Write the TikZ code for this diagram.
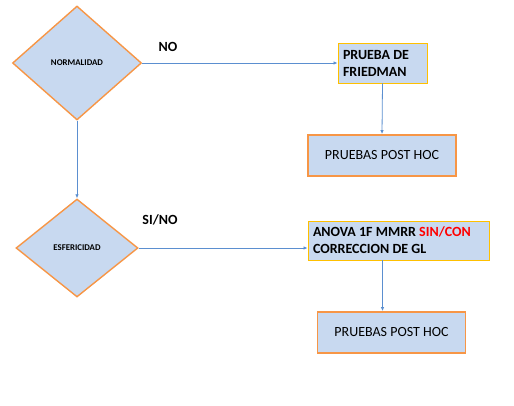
\documentclass[tikz,border=0pt]{standalone}
\usepackage{fontspec}
\setmainfont{Carlito}
\usetikzlibrary{shapes.geometric, arrows.meta}
\definecolor{boxblue}{HTML}{C8D9F0}
\definecolor{lineblue}{HTML}{5B8FD0}
\definecolor{borderorange}{HTML}{F79646}
\definecolor{borderyellow}{HTML}{FFC000}

\begin{document}
\begin{tikzpicture}[x=1pt, y=-1pt,
  decision/.style={diamond, draw=borderorange, line width=1.4pt, fill=boxblue, inner sep=0pt, font=\fontsize{8.8}{10}\selectfont\bfseries},
  testbox/.style={rectangle, draw=borderyellow, line width=0.9pt, fill=boxblue, inner sep=0pt, align=flush left, font=\fontsize{14}{17}\selectfont\bfseries},
  posthoc/.style={rectangle, draw=borderorange, line width=1.8pt, fill=boxblue, inner sep=0pt, minimum width=148pt, minimum height=41pt, font=\fontsize{14}{17}\selectfont},
  conn/.style={draw=lineblue, line width=0.8pt},
  arr/.style={conn, -{Latex[length=4pt, width=3.5pt]}},
  lbl/.style={font=\fontsize{14}{17}\selectfont\bfseries}
]
\useasboundingbox (0,0) rectangle (514,405);

% decisiones
\node[decision, minimum width=129pt, minimum height=114pt] (norm) at (77,63) {NORMALIDAD};
\node[decision, minimum width=122pt, minimum height=98pt] (esf) at (77,248) {ESFERICIDAD};

% pruebas
\node[testbox, minimum width=89pt, minimum height=40pt, text width=79pt] (friedman) at (382.5,63) {PRUEBA DE\\FRIEDMAN};
\node[posthoc] (ph1) at (382,155.5) {PRUEBAS POST HOC};
\node[testbox, minimum width=181pt, minimum height=39pt, text width=171pt] (anova) at (398.5,240.5) {ANOVA 1F MMRR \textcolor{red}{SIN/CON}\\CORRECCION DE GL};
\node[posthoc] (ph2) at (391.5,332.5) {PRUEBAS POST HOC};

% conectores
\draw[arr] (norm.south) -- (esf.north);
\draw[arr] (norm.east) -- (friedman.west);
\draw[arr] (friedman.south) -- (ph1.north);
\draw[arr] (esf.east) -- (anova.west |- esf.east);
\draw[arr] (anova.south -| friedman.south) -- (ph2.north -| friedman.south);

\node[lbl] (no) at (168,47) {NO};
\node[lbl] (sino) at (160,220) {SI/NO};
\end{tikzpicture}
\end{document}
